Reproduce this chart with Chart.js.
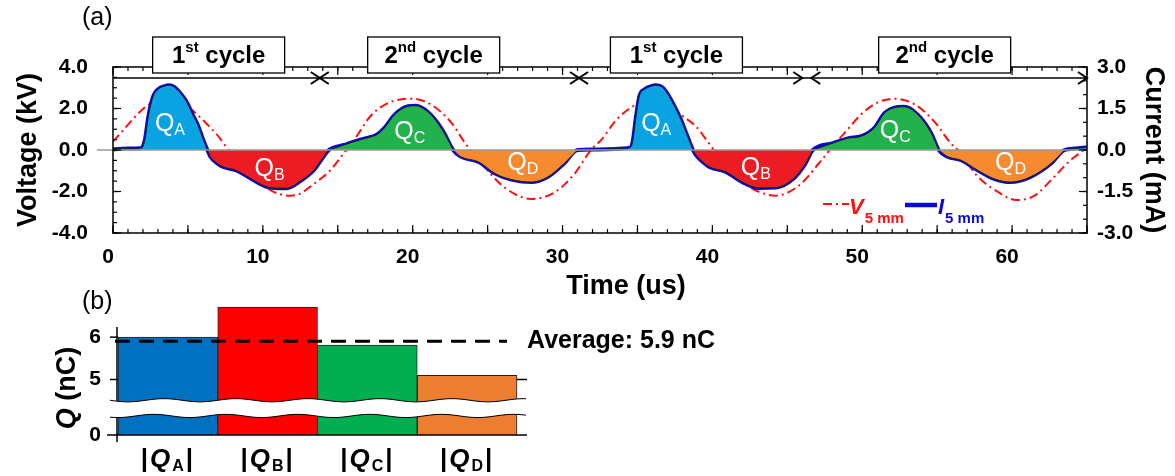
<!DOCTYPE html>
<html>
<head>
<meta charset="utf-8">
<title>Discharge current and charge per half cycle</title>
<script src="https://cdn.jsdelivr.net/npm/chart.js@4.4.1/dist/chart.umd.min.js"></script>
<style>
  body { margin: 0; background: #fff; }
  #wrap { position: relative; width: 1175px; height: 476px; overflow: hidden; }
  #waveChart { position: absolute; left: 0; top: 0; }
  #chargeChart { position: absolute; left: 0; top: 290px; }
</style>
</head>
<body>
<div id="wrap">
  <canvas id="waveChart" width="1175" height="300"></canvas>
  <canvas id="chargeChart" width="760" height="186"></canvas>
</div>
<script>
const FONT = '"Liberation Sans", Arial, Helvetica, sans-serif';
Chart.defaults.font.family = FONT;
Chart.defaults.color = '#000';

// ---- (a) waveforms ----
// discharge current, 5 mm gap (time in us, current in mA)
const curT = [0, 1.0, 1.9, 2.13, 2.36, 2.69, 3.02, 3.4, 3.76, 4.1, 4.5, 4.9, 5.3, 5.7, 6.0, 6.3,
  6.5, 7.0, 7.4, 8.2, 9.1, 10.2, 11.0, 11.6, 12.5, 13.4, 14.0, 14.4,
  15.4, 16.5, 17.2, 17.6, 18.1, 18.8, 19.7, 20.2, 20.7, 21.2, 21.7, 22.1, 22.7,
  23.2, 24.4, 25.5, 26.6, 27.9, 29.0, 30.1, 31.0,
  32.0, 33.0, 34.0, 34.55, 34.7, 34.9, 35.13, 35.5, 35.9, 36.2, 36.7, 37.1, 37.5, 37.9, 38.3, 38.7,
  38.9, 39.4, 39.8, 40.9, 42.0, 43.1, 44.2, 45.4, 46.2, 46.7,
  48.0, 49.1, 49.9, 50.8, 51.5, 52.1, 52.8, 53.7, 54.6, 55.1,
  55.7, 56.6, 57.7, 58.8, 59.9, 61.2, 62.6, 63.5, 64.2, 65.0];
const curI = [0.03, 0.05, 0.07, 0.37, 1.22, 1.95, 2.2, 2.3, 2.34, 2.27, 2.05, 1.75, 1.3, 0.85, 0.4, 0,
  -0.24, -0.5, -0.62, -0.73, -1.0, -1.32, -1.38, -1.38, -1.12, -0.73, -0.28, 0,
  0.18, 0.37, 0.47, 0.55, 0.79, 1.28, 1.58, 1.6, 1.5, 1.28, 0.95, 0.61, 0,
  -0.24, -0.43, -0.85, -1.07, -1.16, -0.98, -0.49, 0,
  0.02, 0.03, 0.05, 0.1, 0.37, 1.2, 1.95, 2.2, 2.3, 2.34, 2.25, 1.95, 1.55, 1.1, 0.55, 0,
  -0.18, -0.45, -0.61, -0.79, -1.16, -1.37, -1.36, -1.04, -0.5, 0,
  0.24, 0.43, 0.49, 0.79, 1.34, 1.52, 1.56, 1.28, 0.61, 0,
  -0.24, -0.37, -0.73, -1.04, -1.16, -0.98, -0.49, 0, 0.05, 0.1];

// applied voltage, 5 mm gap (time in us, voltage in kV)
const volT = [0, 0.9, 2.0, 2.7, 3.7, 4.6, 5.3, 6.2, 7.1, 7.7, 8.7, 9.5, 10.3, 11.0, 11.8, 12.5, 13.1,
  14.0, 14.5, 15.4, 16.1, 17.2, 18.4, 19.9, 21.2, 22.6, 23.5, 25.0, 26.1, 27.9, 29.5, 30.8,
  31.9, 32.6, 33.6, 34.7, 35.5, 36.3, 37.1, 37.9, 38.9, 39.6, 40.1, 41.0, 42.0, 42.9, 44.2,
  45.8, 47.1, 48.2, 48.8, 49.9, 51.0, 52.1, 53.5, 54.8, 55.9, 56.6, 57.6, 58.9, 60.3, 61.5,
  62.8, 63.9, 64.8, 65.0];
const volV = [0.4, 1.14, 1.98, 2.3, 2.45, 2.3, 1.92, 1.3, 0.6, 0, -0.75, -1.35, -1.85, -2.1, -2.2, -2.1, -1.8,
  -1.3, -0.98, -0.16, 0.49, 1.65, 2.28, 2.47, 2.2, 1.3, 0.33, -0.98, -1.79, -2.36, -2.03, -1.14,
  0, 0.5, 1.46, 2.11, 2.4, 2.48, 2.2, 1.7, 1.14, 0.49, 0, -0.8, -1.55, -1.95, -2.2,
  -1.7, -0.65, 0.33, 0.8, 1.7, 2.28, 2.47, 2.2, 1.38, 0.33, -0.16, -1.2, -1.95, -2.41, -2.2,
  -1.3, -0.49, 0, 0.12];

// charge areas between current zero crossings
const areaNames = ['A', 'B', 'C', 'D', 'A', 'B', 'C', 'D', 'A'];
const areaStart = [0, 6.3, 14.4, 22.7, 31.0, 38.7, 46.7, 55.1, 63.5];
const areaEnd = [6.3, 14.4, 22.7, 31.0, 38.7, 46.7, 55.1, 63.5, 65.0];
const areaColors = { A: '#0aa3e2', B: '#ec1c24', C: '#22b14c', D: '#f7892f' };

// Q label anchors (us, mA)
const qLabelNames = ['A', 'B', 'C', 'D', 'A', 'B', 'C', 'D'];
const qLabelT = [3.8, 10.45, 19.8, 27.35, 36.25, 42.9, 52.2, 59.9];
const qLabelI = [1.0, -0.6, 0.74, -0.38, 1.0, -0.58, 0.77, -0.4];

// cycle spans along the top
const cycleNames = ['1st', '2nd', '1st', '2nd'];
const cycleFrom = [0, 13.8, 31.1, 46.6];
const cycleTo = [13.8, 31.1, 46.0, 65.0];
const cycleLabelT = [7.05, 21.4, 37.6, 55.5];

// ---- (b) charge per area ----
const chargeNames = ['A', 'B', 'C', 'D'];
const chargeVals = [6.0, 6.71, 5.81, 5.1];
const chargeColors = ['#0070c0', '#ff0000', '#00b050', '#ed7d31'];
const avgCharge = 5.9;
const qMin = 3.69, qMax = 6.9;        // visible part of the broken axis
const breakLo = 4.14, breakHi = 4.51; // white gap of the axis break
const axisTopQ = 6.24;

const curPts = curT.map((t, i) => ({ x: t, y: curI[i] }));
const volPts = volT.map((t, i) => ({ x: t, y: volV[i] }));

const areaSets = areaStart.map((a, k) => ({
  data: curPts.filter(p => p.x >= a && p.x <= areaEnd[k]),
  yAxisID: 'yI',
  backgroundColor: areaColors[areaNames[k]],
  borderColor: '#1a1a1a',
  borderWidth: 1,
  pointRadius: 0,
  fill: 'origin',
  cubicInterpolationMode: 'monotone',
  order: 0
}));

const currentSet = {
  label: 'I 5 mm',
  data: curPts,
  yAxisID: 'yI',
  borderColor: '#0b0bd0',
  borderWidth: 4,
  pointRadius: 0,
  fill: false,
  cubicInterpolationMode: 'monotone',
  order: 1
};

const voltageSet = {
  label: 'V 5 mm',
  data: volPts,
  yAxisID: 'yV',
  borderColor: '#ff1010',
  borderWidth: 2,
  borderDash: [9, 4, 2, 4],
  pointRadius: 0,
  fill: false,
  cubicInterpolationMode: 'monotone',
  order: 2
};

function line(ctx, x1, y1, x2, y2) {
  ctx.beginPath(); ctx.moveTo(x1, y1); ctx.lineTo(x2, y2); ctx.stroke();
}

// ticks pointing into the plot
function inTicks(ctx, scale, from, to, step, len, side, ca) {
  const n = Math.round((to - from) / step);
  for (let i = 0; i <= n; i++) {
    const p = scale.getPixelForValue(from + i * step);
    if (side === 'bottom') line(ctx, p, ca.bottom, p, ca.bottom - len);
    if (side === 'top') line(ctx, p, ca.top, p, ca.top + len);
    if (side === 'left') line(ctx, ca.left, p, ca.left + len, p);
    if (side === 'right') line(ctx, ca.right, p, ca.right - len, p);
  }
}

function drawQ(ctx, cx, cy, sub) {
  ctx.font = `25px ${FONT}`;
  const wq = ctx.measureText('Q').width;
  ctx.font = `16px ${FONT}`;
  const ws = ctx.measureText(sub).width;
  const x0 = cx - (wq + ws) / 2;
  ctx.fillStyle = '#fff';
  ctx.textAlign = 'left';
  ctx.textBaseline = 'alphabetic';
  ctx.font = `25px ${FONT}`;
  ctx.fillText('Q', x0, cy + 9);
  ctx.font = `16px ${FONT}`;
  ctx.fillText(sub, x0 + wq, cy + 13);
}

function drawCycleBox(ctx, cx, name) {
  const num = name.slice(0, 1), sup = name.slice(1);
  const big = `bold 24px ${FONT}`, small = `bold 15px ${FONT}`;
  ctx.font = big;
  const w1 = ctx.measureText(num).width, w3 = ctx.measureText(' cycle').width;
  ctx.font = small;
  const w2 = ctx.measureText(sup).width;
  const bw = 132, bh = 36, top = 37;
  ctx.fillStyle = '#fff';
  ctx.fillRect(cx - bw / 2, top, bw, bh);
  ctx.strokeStyle = '#000';
  ctx.lineWidth = 1.3;
  ctx.strokeRect(cx - bw / 2, top, bw, bh);
  let xx = cx - (w1 + w2 + w3) / 2;
  ctx.fillStyle = '#000';
  ctx.textAlign = 'left';
  ctx.textBaseline = 'alphabetic';
  ctx.font = big; ctx.fillText(num, xx, top + 26); xx += w1;
  ctx.font = small; ctx.fillText(sup, xx, top + 15); xx += w2;
  ctx.font = big; ctx.fillText(' cycle', xx, top + 26);
}

function drawLegendEntry(ctx, x, y, letter, color) {
  ctx.fillStyle = color;
  ctx.textAlign = 'left';
  ctx.textBaseline = 'alphabetic';
  ctx.font = `italic bold 22px ${FONT}`;
  ctx.fillText(letter, x, y + 10);
  const w = ctx.measureText(letter).width;
  ctx.font = `bold 15px ${FONT}`;
  ctx.fillText('5 mm', x + w + 1, y + 19);
}

const waveDecor = {
  id: 'waveDecor',
  afterDatasetsDraw(chart) {
    const { ctx, chartArea: ca, scales } = chart;
    const y0 = scales.yI.getPixelForValue(0);
    ctx.save();
    ctx.strokeStyle = '#9a9a9a';
    ctx.lineWidth = 1.5;
    line(ctx, ca.left - 16, y0, ca.right, y0);
    qLabelT.forEach((t, i) => {
      drawQ(ctx, scales.x.getPixelForValue(t), scales.yI.getPixelForValue(qLabelI[i]), qLabelNames[i]);
    });
    ctx.restore();
  },
  afterDraw(chart) {
    const { ctx, chartArea: ca, scales } = chart;
    const { x, yV, yI } = scales;
    ctx.save();
    ctx.strokeStyle = '#000';
    ctx.lineWidth = 1.5;
    ctx.strokeRect(ca.left, ca.top, ca.right - ca.left, ca.bottom - ca.top);
    ctx.lineWidth = 1.2;
    inTicks(ctx, x, 0, 65, 1, 4, 'bottom', ca);
    inTicks(ctx, x, 0, 65, 5, 8, 'bottom', ca);
    inTicks(ctx, x, 0, 65, 1, 4, 'top', ca);
    inTicks(ctx, x, 0, 65, 5, 8, 'top', ca);
    inTicks(ctx, yV, -4, 4, 0.5, 4, 'left', ca);
    inTicks(ctx, yV, -4, 4, 2, 8, 'left', ca);
    inTicks(ctx, yI, -3, 3, 0.5, 4, 'right', ca);
    inTicks(ctx, yI, -3, 3, 1.5, 8, 'right', ca);

    // cycle arrows
    const ay = ca.top + 11;
    ctx.lineWidth = 1.5;
    line(ctx, x.getPixelForValue(0), ay, x.getPixelForValue(65), ay);
    ctx.lineWidth = 2;
    cycleFrom.forEach((a, i) => {
      const pa = x.getPixelForValue(a), pb = x.getPixelForValue(cycleTo[i]);
      if (a > 0) {
        ctx.beginPath(); ctx.moveTo(pa + 9, ay - 6); ctx.lineTo(pa, ay); ctx.lineTo(pa + 9, ay + 6); ctx.stroke();
      }
      ctx.beginPath(); ctx.moveTo(pb - 9, ay - 6); ctx.lineTo(pb, ay); ctx.lineTo(pb - 9, ay + 6); ctx.stroke();
    });
    cycleLabelT.forEach((t, i) => drawCycleBox(ctx, x.getPixelForValue(t), cycleNames[i]));

    // legend
    ctx.strokeStyle = '#ff1010';
    ctx.lineWidth = 2;
    ctx.setLineDash([9, 4, 2, 4]);
    line(ctx, 823, 204, 849, 204);
    ctx.setLineDash([]);
    drawLegendEntry(ctx, 849, 204, 'V', '#ff1010');
    ctx.strokeStyle = '#0b0bd0';
    ctx.lineWidth = 4.5;
    line(ctx, 905, 205, 937, 205);
    drawLegendEntry(ctx, 938, 204, 'I', '#0b0bd0');

    // panel tag and x title
    ctx.fillStyle = '#000';
    ctx.textAlign = 'left';
    ctx.textBaseline = 'middle';
    ctx.font = `25px ${FONT}`;
    ctx.fillText('(a)', 82, 18);
    ctx.textAlign = 'center';
    ctx.font = `bold 27px ${FONT}`;
    ctx.fillText('Time (us)', (ca.left + ca.right) / 2 + 26, 287);
    ctx.restore();
  }
};

new Chart(document.getElementById('waveChart'), {
  type: 'line',
  data: { datasets: [...areaSets, currentSet, voltageSet] },
  options: {
    responsive: false,
    animation: false,
    events: [],
    layout: { padding: { top: 67, left: 0, right: 0, bottom: 0 } },
    plugins: { legend: { display: false }, tooltip: { enabled: false } },
    scales: {
      x: {
        type: 'linear', min: 0, max: 65,
        grid: { display: false, drawTicks: false },
        border: { display: false },
        ticks: { stepSize: 10, includeBounds: false, labelOffset: -5, padding: 12,
          font: { size: 21, weight: 'bold' }, color: '#000' },
        afterFit: s => { s.height = 67; }
      },
      yV: {
        type: 'linear', position: 'left', min: -4, max: 4,
        grid: { display: false, drawTicks: false },
        border: { display: false },
        ticks: { stepSize: 2, padding: 25, callback: v => v.toFixed(1),
          font: { size: 21, weight: 'bold' }, color: '#000' },
        title: { display: true, text: 'Voltage (kV)', color: '#000',
          font: { size: 27, weight: 'bold' }, padding: { top: 12, bottom: 0 } },
        afterFit: s => { s.width = 113; }
      },
      yI: {
        type: 'linear', position: 'right', min: -3, max: 3,
        grid: { display: false, drawTicks: false },
        border: { display: false },
        ticks: { stepSize: 1.5, padding: 10, callback: v => v.toFixed(1),
          font: { size: 21, weight: 'bold' }, color: '#000' },
        title: { display: true, text: 'Current (mA)', color: '#000',
          font: { size: 27, weight: 'bold' }, padding: { top: 5, bottom: 0 } },
        afterFit: s => { s.width = 88; }
      }
    }
  },
  plugins: [waveDecor]
});

// ---- (b) bar chart with broken axis ----
const chargeDecor = {
  id: 'chargeDecor',
  afterDatasetsDraw(chart) {
    const { ctx, chartArea: ca, scales: { x, y } } = chart;
    ctx.save();
    ctx.strokeStyle = '#000';
    const axX = ca.left - 1;
    ctx.lineWidth = 1.5;
    line(ctx, axX, y.getPixelForValue(axisTopQ), axX, ca.bottom + 7);
    line(ctx, ca.left - 11, ca.bottom, ca.right + 10, ca.bottom);
    [6, 5].forEach(v => {
      const p = y.getPixelForValue(v);
      line(ctx, axX - 7, p, axX + 1, p);
    });
    const p5 = y.getPixelForValue(5);
    line(ctx, ca.right, p5, ca.right + 10, p5);

    // axis break: white band with wavy edges
    const yA = y.getPixelForValue(breakHi), yB = y.getPixelForValue(breakLo);
    const x0 = ca.left - 8, x1 = ca.right + 10;
    const wave = (xx, ph) => Math.sin((xx - x0) / 72 * 2 * Math.PI + ph) * 1.6;
    ctx.beginPath();
    for (let xx = x0; xx <= x1; xx += 2) ctx.lineTo(xx, yA + wave(xx, 0));
    for (let xx = x1; xx >= x0; xx -= 2) ctx.lineTo(xx, yB + wave(xx, 0.9));
    ctx.closePath();
    ctx.fillStyle = '#fff';
    ctx.fill();
    ctx.lineWidth = 1;
    ctx.beginPath();
    for (let xx = x0; xx <= x1; xx += 2) ctx.lineTo(xx, yA + wave(xx, 0));
    ctx.stroke();
    ctx.beginPath();
    for (let xx = x0; xx <= x1; xx += 2) ctx.lineTo(xx, yB + wave(xx, 0.9));
    ctx.stroke();

    // average line
    const pAvg = y.getPixelForValue(avgCharge);
    ctx.lineWidth = 3;
    ctx.setLineDash([15, 9]);
    line(ctx, ca.left - 3, pAvg, ca.right - 10, pAvg);
    ctx.setLineDash([]);
    ctx.fillStyle = '#000';
    ctx.textAlign = 'left';
    ctx.textBaseline = 'middle';
    ctx.font = `bold 25px ${FONT}`;
    ctx.fillText(`Average: ${avgCharge.toFixed(1)} nC`, ca.right + 10, pAvg);

    // category labels |Q_X|
    ctx.textBaseline = 'alphabetic';
    chart.data.labels.forEach((name, i) => {
      const cx = x.getPixelForValue(i);
      const parts = [
        ['|', `bold 26px ${FONT}`, 0],
        ['Q', `italic bold 26px ${FONT}`, 0],
        [name, `bold 16px ${FONT}`, 4],
        ['|', `bold 26px ${FONT}`, 0]
      ];
      let w = 0;
      parts.forEach(p => { ctx.font = p[1]; w += ctx.measureText(p[0]).width + 2; });
      let xx = cx - w / 2;
      parts.forEach(p => {
        ctx.font = p[1];
        ctx.fillText(p[0], xx, 177 + p[2]);
        xx += ctx.measureText(p[0]).width + 2;
      });
    });

    // y title with italic Q
    ctx.save();
    ctx.translate(68, 98);
    ctx.rotate(-Math.PI / 2);
    ctx.textBaseline = 'middle';
    ctx.font = `italic bold 27px ${FONT}`;
    const wq = ctx.measureText('Q').width;
    ctx.font = `bold 27px ${FONT}`;
    const wr = ctx.measureText(' (nC)').width;
    ctx.font = `italic bold 27px ${FONT}`;
    ctx.fillText('Q', -(wq + wr) / 2, 0);
    ctx.font = `bold 27px ${FONT}`;
    ctx.fillText(' (nC)', -(wq + wr) / 2 + wq, 0);
    ctx.restore();

    ctx.textBaseline = 'middle';
    ctx.font = `25px ${FONT}`;
    ctx.fillText('(b)', 82, 12);
    ctx.restore();
  }
};

new Chart(document.getElementById('chargeChart'), {
  type: 'bar',
  data: {
    labels: chargeNames,
    datasets: [{
      data: chargeVals,
      backgroundColor: chargeColors,
      borderColor: '#222',
      borderWidth: 1,
      categoryPercentage: 1,
      barPercentage: 1,
      clip: { left: 2, right: 2, top: 2, bottom: 0 }
    }]
  },
  options: {
    responsive: false,
    animation: false,
    events: [],
    layout: { padding: { top: 9, left: 0, right: 243, bottom: 0 } },
    plugins: { legend: { display: false }, tooltip: { enabled: false } },
    scales: {
      x: {
        grid: { display: false, drawTicks: false },
        border: { display: false },
        ticks: { display: false },
        afterFit: s => { s.height = 41; }
      },
      y: {
        min: qMin, max: qMax,
        grid: { display: false, drawTicks: false },
        border: { display: false },
        afterBuildTicks: s => { s.ticks = [qMin, 5, 6].map(v => ({ value: v })); },
        ticks: { padding: 17, font: { size: 21, weight: 'bold' }, color: '#000',
          callback: v => (Math.abs(v - qMin) < 1e-6 ? '0' : String(v)) },
        // tick labels sit well inside the range, so no extra edge padding
        afterFit: s => { s.width = 118; s.paddingTop = 0; s.paddingBottom = 0; }
      }
    }
  },
  plugins: [chargeDecor]
});
</script>
</body>
</html>
